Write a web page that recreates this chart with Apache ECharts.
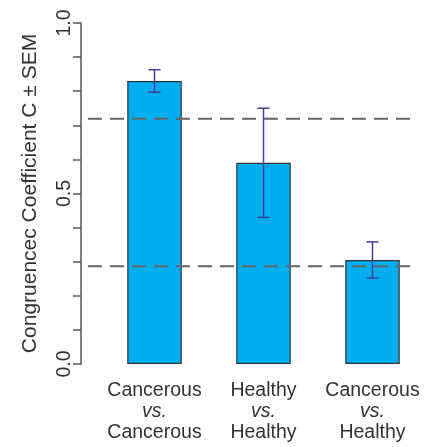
<!DOCTYPE html>
<html><head><meta charset="utf-8">
<script src="https://cdn.jsdelivr.net/npm/echarts@6/dist/echarts.min.js"></script>
<style>html,body{margin:0;padding:0;background:#fff}#c{width:427px;height:447px}</style>
</head><body><div id="c"></div>
<script>
const groupTop = ['Cancerous', 'Healthy', 'Cancerous'];
const groupBottom = ['Cancerous', 'Healthy', 'Healthy'];
const means = [0.83, 0.59, 0.305];
const sems = [0.033, 0.16, 0.053];
const refLines = [0.719, 0.287];
const yLabelValues = [0, 0.5, 1];
const yAxisTitle = 'Congruencec Coefficient C \u00b1 SEM';

const categories = groupTop.map((t, i) => t + '|' + groupBottom[i]);
const font = '"Liberation Sans", Arial, sans-serif';
const chart = echarts.init(document.getElementById('c'), null, {renderer: 'canvas'});

const refSeries = refLines.map(v => ({
  type: 'line', xAxisIndex: 1, yAxisIndex: 1, data: [[0, v], [1, v]],
  symbol: 'none', silent: true, z: 5,
  lineStyle: {color: '#666', width: 2, type: [14, 8]}
}));

chart.setOption({
  animation: false,
  backgroundColor: '#ffffff',
  grid: [
    {left: 100, right: 0, top: 23, bottom: 83},
    {left: 88, right: 15, top: 23, bottom: 83}
  ],
  xAxis: [
    {type: 'category', gridIndex: 0, data: categories,
     axisLine: {show: false}, axisTick: {show: false},
     axisLabel: {
       margin: 16, interval: 0,
       formatter: v => { const p = v.split('|'); return '{a|' + p[0] + '}\n{b|vs.}\n{a|' + p[1] + '}'; },
       rich: {
         a: {fontSize: 19.5, fontFamily: font, color: '#333', lineHeight: 21},
         b: {fontSize: 19.5, fontFamily: font, color: '#333', lineHeight: 21, fontStyle: 'italic'}
       }
     }},
    {type: 'value', gridIndex: 1, min: 0, max: 1, show: false}
  ],
  yAxis: [
    {type: 'value', gridIndex: 0, min: 0, max: 1, interval: 0.1, offset: 19,
     splitLine: {show: false},
     axisLine: {show: true, lineStyle: {color: '#555', width: 1.5}},
     axisTick: {show: true, interval: 0, length: 8, lineStyle: {color: '#555', width: 1.5}},
     axisLabel: {
       rotate: 90, margin: 6, fontSize: 19.5, fontFamily: font, color: '#333',
       formatter: v => yLabelValues.some(t => Math.abs(t - v) < 1e-6) ? v.toFixed(1) : ''
     },
     name: yAxisTitle, nameLocation: 'middle', nameRotate: 90, nameGap: 40,
     nameTextStyle: {fontSize: 21, fontFamily: font, color: '#333'}},
    {type: 'value', gridIndex: 1, min: 0, max: 1, show: false}
  ],
  series: [
    {type: 'bar', xAxisIndex: 0, yAxisIndex: 0, data: means, barWidth: '50%', z: 2,
     itemStyle: {color: '#00AEEF', borderColor: '#333', borderWidth: 1.2}},
    ...refSeries,
    {type: 'custom', xAxisIndex: 0, yAxisIndex: 0, z: 10,
     data: means.map((m, i) => [i, m - sems[i], m + sems[i]]),
     renderItem: (params, api) => {
       const lo = api.coord([api.value(0), api.value(1)]);
       const hi = api.coord([api.value(0), api.value(2)]);
       const w = 6;
       const st = {stroke: '#3F3F99', lineWidth: 1.5};
       return {type: 'group', children: [
         {type: 'line', shape: {x1: lo[0], y1: lo[1], x2: hi[0], y2: hi[1]}, style: st},
         {type: 'line', shape: {x1: lo[0] - w, y1: lo[1], x2: lo[0] + w, y2: lo[1]}, style: st},
         {type: 'line', shape: {x1: hi[0] - w, y1: hi[1], x2: hi[0] + w, y2: hi[1]}, style: st}
       ]};
     }}
  ]
});
</script></body></html>
